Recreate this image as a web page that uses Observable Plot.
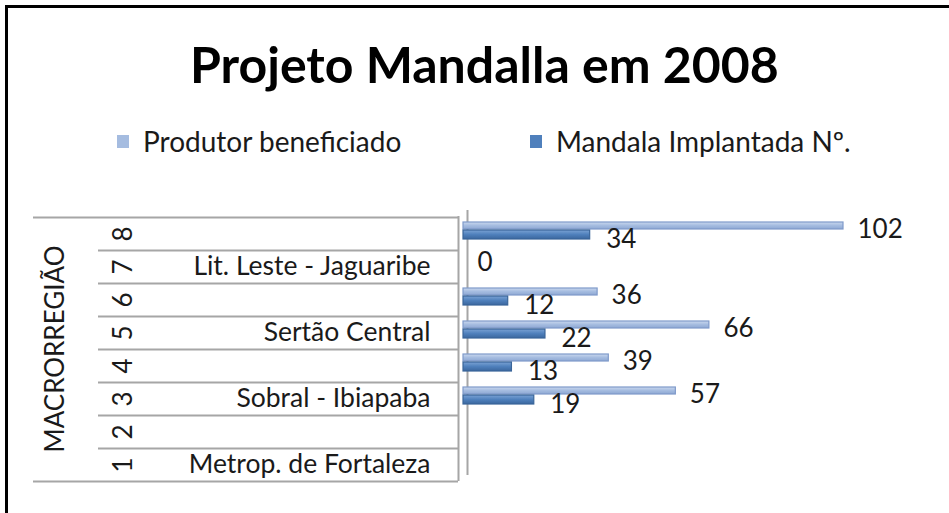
<!DOCTYPE html>
<html><head><meta charset="utf-8">
<script src="https://cdn.jsdelivr.net/npm/d3@7"></script>
<script src="https://cdn.jsdelivr.net/npm/@observablehq/plot@0.6"></script>
<style>
html,body{margin:0;padding:0;background:#fff;overflow:hidden;}
#wrap{position:relative;width:949px;height:513px;overflow:hidden;font-family:Lato,"Open Sans",sans-serif;color:#1a1a1a;}
#bl{position:absolute;left:5px;top:5px;width:3px;height:508px;background:#000;}
#bt{position:absolute;left:5px;top:5px;width:944px;height:3px;background:#000;}
#title{position:absolute;left:190px;top:34px;white-space:nowrap;font-weight:700;font-size:50px;color:#000;}
.leg{position:absolute;top:124px;font-size:28px;white-space:nowrap;display:flex;align-items:center;}
.sw{display:inline-block;width:12px;height:13px;margin-right:14px;}
#chart{position:absolute;left:0;top:0;}
</style></head>
<body>
<div id="wrap">
  <div id="bl"></div><div id="bt"></div>
  <div id="title"></div>
  <div class="leg" id="leg0" style="left:117px"></div>
  <div class="leg" id="leg1" style="left:530px"></div>
  <div id="chart"></div>
</div>
<script>
// ---- data ----
const titleText = "Projeto Mandalla em 2008";
const axisTitle = "MACRORREGIÃO";
const categories = ["1","2","3","4","5","6","7","8"];
const regionLabels = ["Metrop. de Fortaleza","","Sobral - Ibiapaba","","Sertão Central","","Lit. Leste - Jaguaribe",""];
const seriesNames = ["Produtor beneficiado","Mandala Implantada Nº."];
const produtor = [null,null,57,39,66,36,0,102];
const mandala  = [null,null,19,13,22,12,null,34];
const colors = ["#A5BCE0","#4F80BC"];
const strokes = ["#7F9ACA","#3A6599"];
const gradStops = [["#CAD8EE","#A5BCE0","#8EA8D3"],["#7AA2D4","#4F80BC","#3B679E"]];

// ---- header ----
document.getElementById("title").textContent = titleText;
seriesNames.forEach((n,i)=>{
  const el = document.getElementById("leg"+i);
  const sw = document.createElement("span"); sw.className="sw"; sw.style.background=colors[i];
  el.appendChild(sw);
  el.appendChild(document.createTextNode(n));
});

const rows = categories.map((c,i)=>({cat:c, region:regionLabels[i], produtor:produtor[i], mandala:mandala[i]}));
const prodRows = rows.filter(d=>d.produtor!=null);
const mandRows = rows.filter(d=>d.mandala!=null);

const W=949, H=513, mT=216, mB=32;
const bw = (H-mT-mB)/categories.length;
const grid = "#a6a6a6";
const ink = "#1a1a1a";

const chart = Plot.plot({
  width:W, height:H,
  marginLeft:463, marginRight:106, marginTop:mT, marginBottom:mB,
  x:{domain:[0,102], axis:null},
  y:{type:"band", domain:categories.slice().reverse(), padding:0, axis:null},
  style:{fontFamily:"Lato, 'Open Sans', sans-serif", background:"transparent", overflow:"visible", color:ink},
  marks:[
    // table lines
    Plot.ruleY(categories.slice(0,-1), {y:d=>d, dy:-bw/2, insetLeft:-365, insetRight:385, stroke:grid, strokeWidth:2}),
    Plot.ruleY([categories[categories.length-1]], {y:d=>d, dy:-bw/2, insetLeft:-430, insetRight:385, stroke:grid, strokeWidth:2}),
    Plot.ruleY([categories[0]], {y:d=>d, dy:bw/2, insetLeft:-430, insetRight:385, stroke:grid, strokeWidth:2}),
    // 3D wall
    Plot.ruleX([0], {x:d=>d, dx:-5, stroke:grid, strokeWidth:2}),
    Plot.ruleX([0], {x:d=>d, dx:4, insetTop:-6, insetBottom:6, stroke:grid, strokeWidth:2}),
    // bars
    Plot.barX(prodRows, {x:"produtor", y:"cat", insetTop:5, insetBottom:21, fill:"url(#g0)", stroke:strokes[0], strokeWidth:1.2}),
    Plot.barX(mandRows, {x:"mandala", y:"cat", insetTop:13, insetBottom:11, fill:"url(#g1)", stroke:strokes[1], strokeWidth:1.2}),
    // value labels
    Plot.text(prodRows, {x:"produtor", y:"cat", text:d=>String(d.produtor), textAnchor:"start", dx:14, dy:-4, fontSize:26, fill:ink}),
    Plot.text(mandRows, {x:"mandala", y:"cat", text:d=>String(d.mandala), textAnchor:"start", dx:16, dy:6, fontSize:26, fill:ink}),
    // category axis (two levels)
    Plot.text(rows, {y:"cat", text:"region", frameAnchor:"left", textAnchor:"end", dx:-33, fontSize:26.5, fill:ink}),
    Plot.text(rows, {y:"cat", text:"cat", frameAnchor:"left", textAnchor:"middle", dx:-340, rotate:-90, fontSize:26, fill:ink}),
    Plot.text([axisTitle], {text:d=>d, frameAnchor:"left", textAnchor:"middle", dx:-408, rotate:-90, fontSize:26, fill:ink})
  ]
});
// gradients for the bar fills
const defs = d3.select(chart).insert("defs", ":first-child");
gradStops.forEach((stops,i)=>{
  const g = defs.append("linearGradient").attr("id","g"+i).attr("x1",0).attr("y1",0).attr("x2",0).attr("y2",1);
  stops.forEach((c,k)=>g.append("stop").attr("offset", k/(stops.length-1)).attr("stop-color", c));
});
document.getElementById("chart").appendChild(chart);
</script>
</body></html>
